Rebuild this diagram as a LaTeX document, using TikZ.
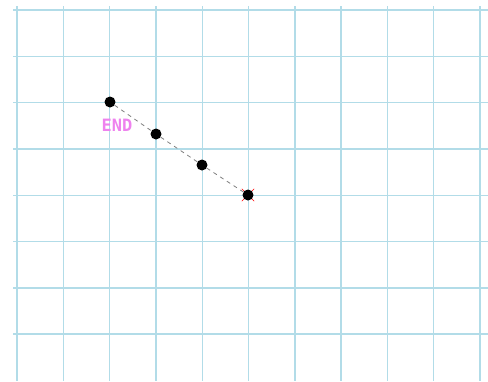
\documentclass[tikz,border=0pt]{standalone}
\usepackage{fontspec}
\usepackage{xcolor}
\usetikzlibrary{calc, shapes.misc, positioning}
\newfontfamily\endfont{DejaVu Sans Mono}
\definecolor{gridblue}{RGB}{178,220,232}
\definecolor{endpink}{RGB}{238,130,238}

\begin{document}
\begin{tikzpicture}[x=1pt, y=-1pt,
    dot/.style={circle, fill=black, inner sep=0pt, minimum size=11pt},
    gridline/.style={gridblue, line width=1.4pt}]
    % 1. Khung
    \useasboundingbox (0,0) rectangle (488,381);
    % 2. Vẽ lưới
    \foreach \i in {0,...,10}
        \draw[gridline] ({17+46.3*\i},6) -- ({17+46.3*\i},381);
    \foreach \j in {0,...,7}
        \draw[gridline] (13,{10+46.3*\j}) -- (488,{10+46.3*\j});
    % 3. Các điểm
    \node[cross out, draw=red, thin, inner sep=0pt, minimum size=12pt] (x4) at (248,195) {};
    \node[dot] (p1) at (110,102) {};
    \node[dot] (p2) at (156,134) {};
    \node[dot] (p3) at (202,165) {};
    \node[dot] (p4) at (248,195) {};
    \draw[gray, line width=0.8pt, dash pattern=on 4pt off 4pt] (p1) -- (p2) -- (p3) -- (p4);
    \node[text=endpink, font=\endfont\bfseries\fontsize{17}{17}\selectfont] (lbl) at (117,125.5) {END};
\end{tikzpicture}
\end{document}
